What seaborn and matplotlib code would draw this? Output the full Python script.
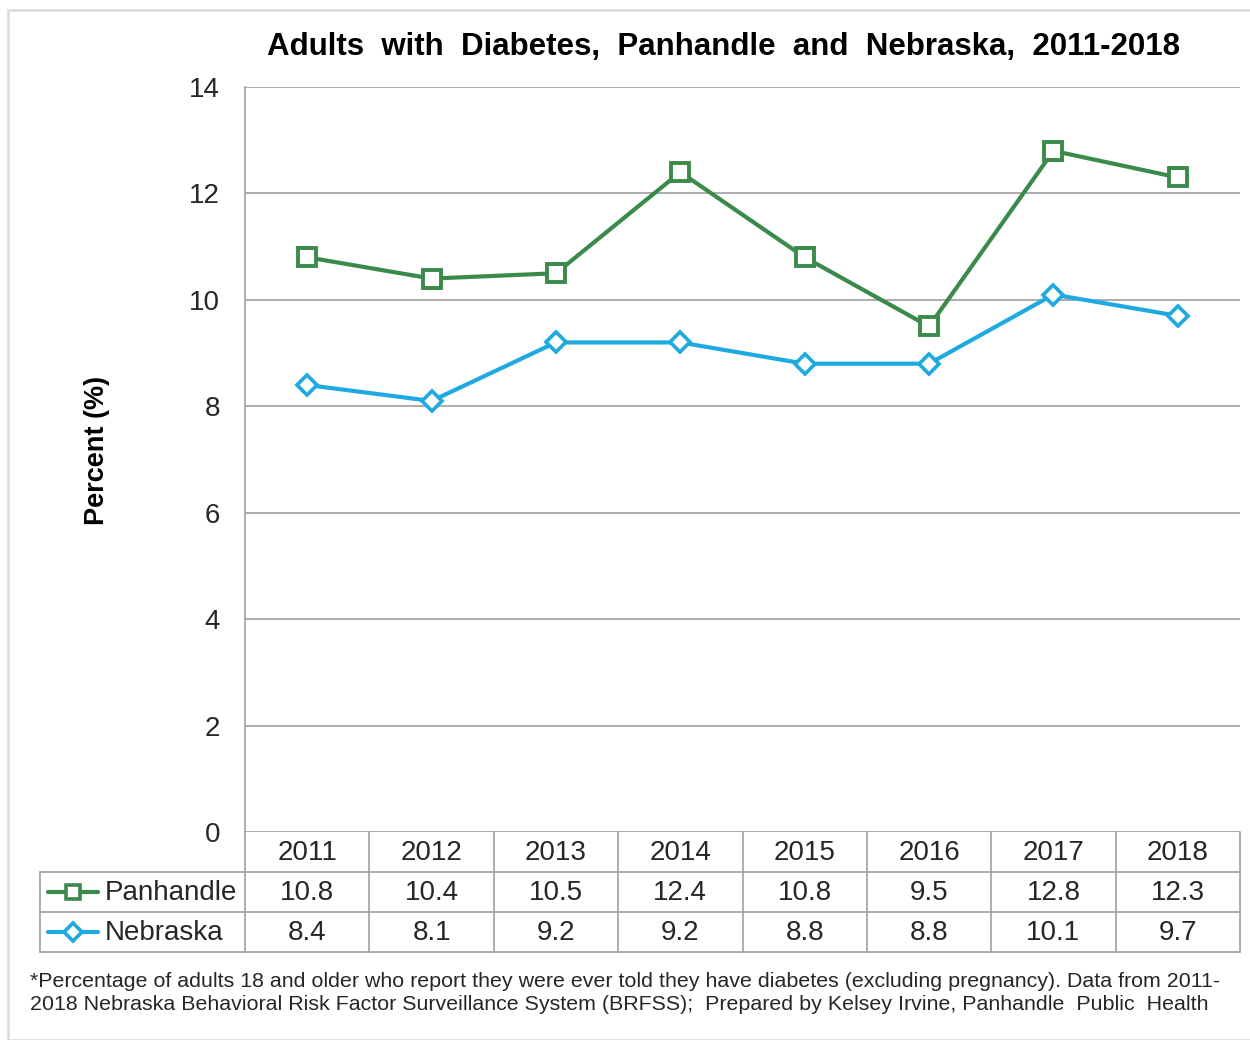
import matplotlib
matplotlib.use("Agg")
import matplotlib.pyplot as plt
import seaborn as sns
import pandas as pd
from matplotlib.lines import Line2D
from matplotlib.patches import Rectangle

years = ["2011", "2012", "2013", "2014", "2015", "2016", "2017", "2018"]
panhandle = [10.8, 10.4, 10.5, 12.4, 10.8, 9.5, 12.8, 12.3]
nebraska = [8.4, 8.1, 9.2, 9.2, 8.8, 8.8, 10.1, 9.7]
series_names = ["Panhandle", "Nebraska"]
yticks = [0, 2, 4, 6, 8, 10, 12, 14]

title = "Adults  with  Diabetes,  Panhandle  and  Nebraska,  2011-2018"
ylabel = "Percent (%)"
footnote = ("*Percentage of adults 18 and older who report they were ever told they have diabetes (excluding pregnancy). Data from 2011-\n"
            "2018 Nebraska Behavioral Risk Factor Surveillance System (BRFSS);  Prepared by Kelsey Irvine, Panhandle  Public  Health")

GREEN = "#3B8A4C"
BLUE = "#1FA9E1"
GRID = "#A6A6A6"
TEXT = "#262626"

sns.set_theme(style="white")
plt.rcParams['font.family'] = ['Liberation Sans', 'DejaVu Sans']

df = pd.DataFrame({
    "x": list(range(len(years))) * 2,
    "value": panhandle + nebraska,
    "series": [series_names[0]] * len(years) + [series_names[1]] * len(years),
})

W, H = 1250, 1040
fig = plt.figure(figsize=(W / 100, H / 100), dpi=100)
L, R, T, B = 245, 1240, 87, 832
ax = fig.add_axes([L / W, 1 - B / H, (R - L) / W, (B - T) / H])

sns.lineplot(data=df, x="x", y="value", hue="series",
             palette={"Panhandle": GREEN, "Nebraska": BLUE},
             linewidth=3.0, legend=False, ax=ax)
ax.plot(range(len(years)), panhandle, linestyle="none", marker="s", markersize=12.5,
        markerfacecolor="white", markeredgecolor=GREEN, markeredgewidth=2.8, zorder=5)
ax.plot(range(len(years)), nebraska, linestyle="none", marker="D", markersize=10,
        markerfacecolor="white", markeredgecolor=BLUE, markeredgewidth=2.6, zorder=5)

ax.set_xlim(-0.5, len(years) - 0.5)
ax.set_ylim(0, 14)
ax.set_yticks(yticks)
ax.set_yticklabels([str(v) for v in yticks], fontsize=20, color=TEXT)
ax.tick_params(axis="y", length=0, pad=18)
ax.set_xticks([])
ax.set_xlabel("")
ax.set_ylabel("")
for v in yticks:
    ax.axhline(v, color=GRID, linewidth=1.3, zorder=0)
for s in ["top", "right", "bottom"]:
    ax.spines[s].set_visible(False)
ax.spines["left"].set_color(GRID)
ax.spines["left"].set_linewidth(1.3)


def fx(px):
    return px / W


def fy(py):
    return 1 - py / H


# table
col_w = (R - L) / len(years)
lc = GRID
lw = 1.3
for yy in (872, 912, 952):
    fig.add_artist(Line2D([fx(40), fx(R)], [fy(yy), fy(yy)], color=lc, lw=lw))
fig.add_artist(Line2D([fx(40), fx(40)], [fy(872), fy(952)], color=lc, lw=lw))
for k in range(len(years) + 1):
    xx = L + k * col_w
    fig.add_artist(Line2D([fx(xx), fx(xx)], [fy(832), fy(952)], color=lc, lw=lw))

for i, yr in enumerate(years):
    cx = L + (i + 0.5) * col_w
    fig.text(fx(cx), fy(853), yr, ha="center", va="center", fontsize=20, color=TEXT)
    fig.text(fx(cx), fy(893), f"{panhandle[i]:.1f}", ha="center", va="center", fontsize=20, color=TEXT)
    fig.text(fx(cx), fy(933), f"{nebraska[i]:.1f}", ha="center", va="center", fontsize=20, color=TEXT)

# legend keys
for name, yc, col, mk, ms in [(series_names[0], 892, GREEN, "s", 10.5), (series_names[1], 932, BLUE, "D", 9)]:
    fig.add_artist(Line2D([fx(48), fx(98)], [fy(yc), fy(yc)], color=col, lw=3.0))
    fig.add_artist(Line2D([fx(73)], [fy(yc)], color=col, marker=mk, markersize=ms,
                          markerfacecolor="white", markeredgecolor=col, markeredgewidth=2.6))
    fig.text(fx(105), fy(yc + 1), name, ha="left", va="center", fontsize=20, color=TEXT)

# title, y label
fig.text(fx(724), fy(47), title, ha="center", va="center", fontsize=22.5, fontweight="bold", color="black")
fig.text(fx(97), fy(450), ylabel, ha="center", va="center", rotation=90, fontsize=19.5,
         fontweight="bold", color="black")

# footnote
fig.text(fx(30), fy(993), footnote, ha="left", va="center", fontsize=15.4, color=TEXT,
         linespacing=1.3)

# faint figure border
fig.add_artist(Rectangle((fx(8), fy(1040)), 1, fy(10) - fy(1040), fill=False,
                         edgecolor="#DADADA", lw=1.8, transform=fig.transFigure))

fig.savefig("out.png", dpi=100, facecolor="white")
